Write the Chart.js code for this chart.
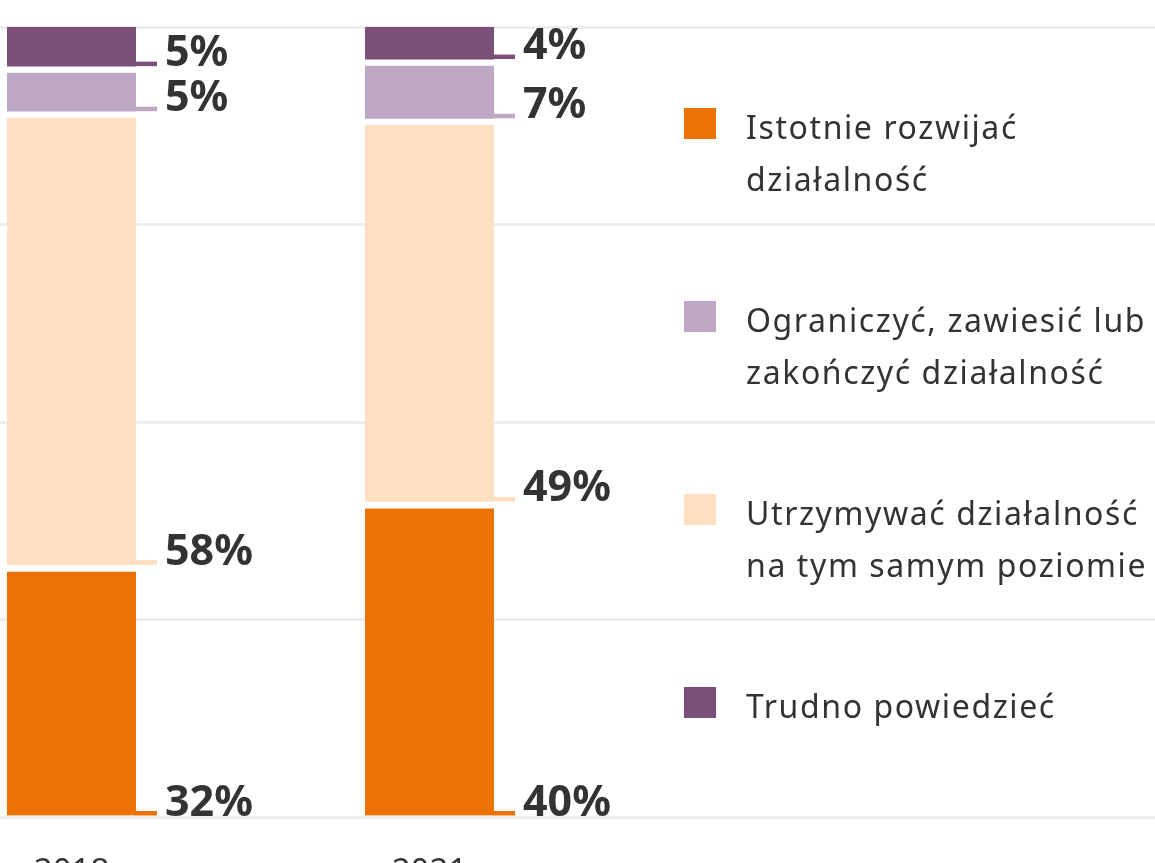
<!DOCTYPE html>
<html>
<head>
<meta charset="utf-8">
<script src="https://cdn.jsdelivr.net/npm/chart.js@4.4.1/dist/chart.umd.min.js"></script>
<style>
  body { margin: 0; background: #fff; }
  canvas { display: block; }
</style>
</head>
<body>
<canvas id="chart" width="1155" height="863"></canvas>
<script>
// data (bar heights), plus the printed percentages
var years = ['2018', '2021'];
var istotnie = [31.5, 39.5];
var utrzymywac = [57.4, 48.5];
var ograniczyc = [5.7, 7.5];
var trudno = [5.4, 4.5];
var istotnieTxt = ['32%', '40%'];
var utrzymywacTxt = ['58%', '49%'];
var ograniczycTxt = ['5%', '7%'];
var trudnoTxt = ['5%', '4%'];

var legendOrder = [0, 2, 1, 3];
var textColor = '#333333';

// value label + little tick at the bottom of each segment
var segLabels = {
    id: 'segLabels',
    afterDatasetsDraw: function(chart) {
        var ctx = chart.ctx;
        ctx.save();
        chart.data.datasets.forEach(function(ds, i) {
            var meta = chart.getDatasetMeta(i);
            meta.data.forEach(function(bar, j) {
                var p = bar.getProps(['x', 'y', 'base', 'width'], true);
                var bottom = p.base - (ds.borderWidth.bottom || 0);
                var right = p.x + p.width / 2;
                ctx.fillStyle = ds.backgroundColor;
                ctx.fillRect(right - 1, bottom - 4.5, 22, 4.5);
                ctx.fillStyle = textColor;
                ctx.font = 'bold 43px "Noto Sans"';
                ctx.textAlign = 'left';
                ctx.textBaseline = 'alphabetic';
                ctx.fillText(ds.valueText[j], right + 29, bottom);
            });
        });
        ctx.restore();
    }
};

// legend on the right, two line labels
var sideLegend = {
    id: 'sideLegend',
    afterDraw: function(chart) {
        var ctx = chart.ctx;
        ctx.save();
        legendOrder.forEach(function(idx, k) {
            var ds = chart.data.datasets[idx];
            var top = 108 + k * 193;
            ctx.fillStyle = ds.backgroundColor;
            ctx.fillRect(684, top, 32, 31);
            ctx.fillStyle = textColor;
            ctx.font = '32px "Noto Sans"';
            ctx.letterSpacing = '1.6px';
            ctx.textAlign = 'left';
            ctx.textBaseline = 'alphabetic';
            ds.legendLines.forEach(function(line, n) {
                ctx.fillText(line, 746, top + 31 + n * 52);
            });
        });
        ctx.restore();
    }
};

var ctx = document.getElementById('chart').getContext('2d');
var chart = new Chart(ctx, {
    type: 'bar',
    data: {
        labels: years,
        datasets: [{
            label: 'Istotnie rozwijać działalność',
            legendLines: ['Istotnie rozwijać', 'działalność'],
            data: istotnie,
            valueText: istotnieTxt,
            backgroundColor: '#ee7203',
            borderColor: '#ffffff',
            borderWidth: {top: 4, bottom: 0, left: 0, right: 0}
        }, {
            label: 'Utrzymywać działalność na tym samym poziomie',
            legendLines: ['Utrzymywać działalność', 'na tym samym poziomie'],
            data: utrzymywac,
            valueText: utrzymywacTxt,
            backgroundColor: '#fedfc0',
            borderColor: '#ffffff',
            borderWidth: {top: 3.5, bottom: 3.5, left: 0, right: 0}
        }, {
            label: 'Ograniczyć, zawiesić lub zakończyć działalność',
            legendLines: ['Ograniczyć, zawiesić lub', 'zakończyć działalność'],
            data: ograniczyc,
            valueText: ograniczycTxt,
            backgroundColor: '#bfa8c6',
            borderColor: '#ffffff',
            borderWidth: {top: 3.5, bottom: 3.5, left: 0, right: 0}
        }, {
            label: 'Trudno powiedzieć',
            legendLines: ['Trudno powiedzieć'],
            data: trudno,
            valueText: trudnoTxt,
            backgroundColor: '#7a5078',
            borderColor: '#ffffff',
            borderWidth: {top: 0, bottom: 3.5, left: 0, right: 0}
        }]
    },
    options: {
        responsive: false,
        animation: false,
        barThickness: 129,
        borderSkipped: false,
        layout: { padding: { top: 27, left: 0, right: 0, bottom: 0 } },
        plugins: {
            legend: { display: false },
            tooltip: { enabled: false }
        },
        scales: {
            x: {
                type: 'linear',
                stacked: true,
                offset: false,
                min: 2017.4008,
                max: 2027.08,
                grid: { display: false },
                border: { display: false },
                afterBuildTicks: function(scale) {
                    scale.ticks = years.map(function(y) { return {value: +y}; });
                },
                afterFit: function(scale) { scale.height = 46; },
                ticks: {
                    padding: 28,
                    color: textColor,
                    font: { family: 'Noto Sans', size: 33 },
                    maxRotation: 0,
                    callback: function(v) { return String(v); }
                }
            },
            y: {
                stacked: true,
                min: 0,
                max: 100,
                grid: { color: '#ececf1', lineWidth: 3, drawTicks: false },
                border: { display: false },
                afterFit: function(scale) { scale.width = 0; },
                ticks: { display: false, stepSize: 25 }
            }
        }
    },
    plugins: [segLabels, sideLegend]
});
</script>
</body>
</html>
